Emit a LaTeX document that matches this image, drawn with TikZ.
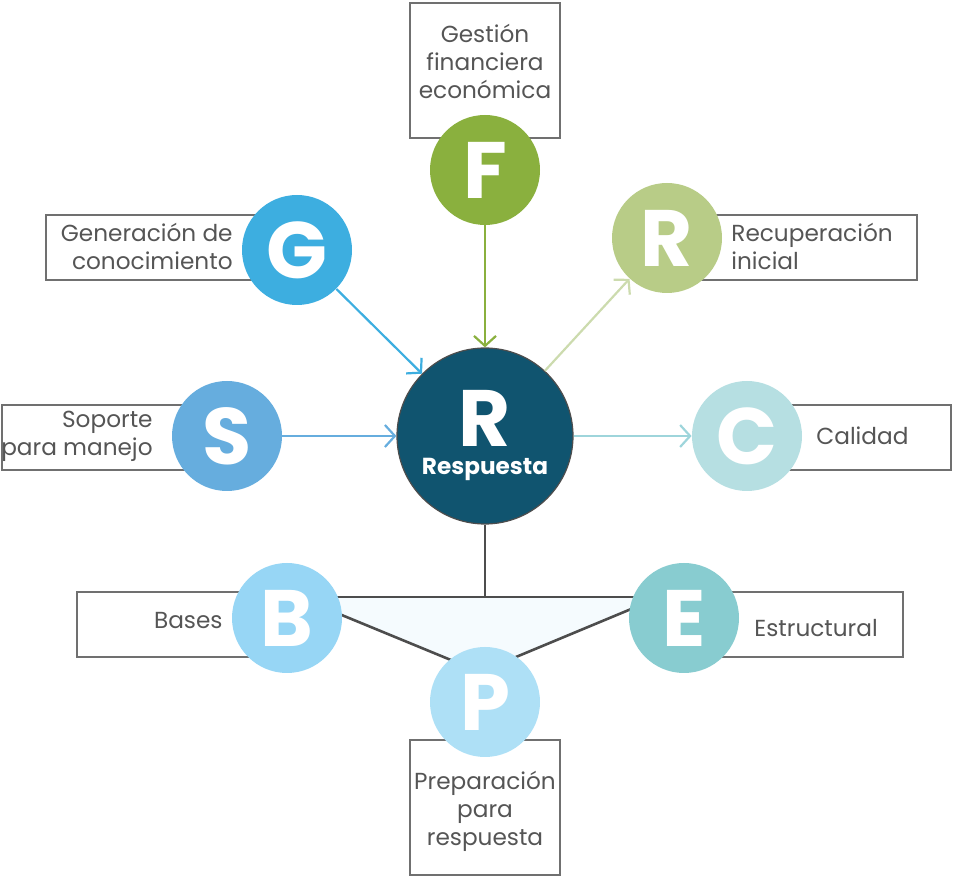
\documentclass[tikz,border=0pt]{standalone}
\usepackage{fontspec}
\setmainfont{Poppins}
\usetikzlibrary{arrows.meta,positioning}

\definecolor{resp}{HTML}{10546F}
\definecolor{gfin}{HTML}{8AB03E}
\definecolor{gcon}{HTML}{3DAEE0}
\definecolor{grec}{HTML}{B8CC87}
\definecolor{gsop}{HTML}{66ADDE}
\definecolor{gcal}{HTML}{B6DFE2}
\definecolor{gbas}{HTML}{97D6F5}
\definecolor{gest}{HTML}{88CCD0}
\definecolor{gpre}{HTML}{AEE0F6}
\definecolor{arec}{HTML}{CCDBAE}
\definecolor{acal}{HTML}{9ED5DB}
\definecolor{boxgray}{HTML}{707070}
\definecolor{txtgray}{HTML}{555555}
\definecolor{darkline}{HTML}{4D4D4D}
\definecolor{trifill}{HTML}{F5FBFE}

\tikzset{
  letter/.style={circle, minimum size=55pt, inner sep=0pt, text=white,
    font=\fontsize{40}{40}\selectfont\bfseries},
  labelbox/.style={draw=boxgray, line width=0.6pt, inner sep=0pt, minimum height=32.5pt},
  lbl/.style={text=txtgray, font=\fontsize{11.6}{14}\selectfont, inner sep=0pt},
  link/.style={line width=1.1pt, -{Straight Barb[length=5pt,width=11pt]}},
}

\begin{document}
\begin{tikzpicture}[x=0.5pt,y=-0.5pt]
\useasboundingbox (0,0) rectangle (954,876);

% label boxes behind the circles
\node[labelbox, minimum width=75pt, minimum height=67.5pt] (finbox) at (485,70.5) {};
\node[labelbox, minimum width=125.5pt] (conbox) at (171.5,247.5) {};
\node[labelbox, minimum width=125pt] (recbox) at (792,247.5) {};
\node[labelbox, minimum width=112.5pt] (sopbox) at (114.5,437.5) {};
\node[labelbox, minimum width=102pt] (calbox) at (849,437.5) {};
\node[labelbox, minimum width=105pt] (basbox) at (182,624.5) {};
\node[labelbox, minimum width=109.5pt] (estbox) at (793.5,624.5) {};
\node[labelbox, minimum width=75pt, minimum height=67.5pt] (prebox) at (485,807.5) {};

% texts
\node[lbl, align=center] (fintxt) at (485,61) {Gestión\\financiera\\económica};
\node[lbl, align=right, anchor=east] (contxt) at (233,246) {Generación de\\conocimiento};
\node[lbl, align=left, anchor=west] (rectxt) at (731,246) {Recuperación\\inicial};
\node[lbl, align=right, anchor=east] (soptxt) at (153,436) {Soporte\\para manejo};
\node[lbl, anchor=west] (caltxt) at (816,436) {Calidad};
\node[lbl, anchor=east] (bastxt) at (223,621) {Bases};
\node[lbl, anchor=west] (esttxt) at (754,628) {Estructural};
\node[lbl, align=center] (pretxt) at (485,811) {Preparación\\para\\respuesta};

% triangle under the centre
\coordinate (tl) at (298,597);
\coordinate (tr) at (660,597);
\coordinate (tb) at (480,672);
\coordinate (tm) at (485,597);
\fill[trifill] (tl) -- (tr) -- (tb) -- cycle;
\draw[darkline, line width=1.3pt] (tl) -- (tr);
\draw[darkline, line width=1.3pt] (tl) -- (tb) -- (tr);

% circles
\node[letter, fill=gfin] (F) at (485,170) {F};
\node[letter, fill=gcon] (G) at (297,250) {G};
\node[letter, fill=grec] (Rr) at (667,238) {R};
\node[letter, fill=gsop] (S) at (227,436) {S};
\node[letter, fill=gcal] (C) at (747,436) {C};
\node[letter, fill=gbas] (B) at (287,618) {B};
\node[letter, fill=gest] (E) at (684,618) {E};
\node[letter, fill=gpre] (P) at (485,702) {P};
\node[circle, fill=resp, draw=darkline, line width=0.6pt, minimum size=88pt, inner sep=0pt,
  text=white, align=center, font=\bfseries] (R) at (485,436)
  {{\fontsize{40}{40}\selectfont R}\\[2pt]{\fontsize{11.6}{14}\selectfont Respuesta}};

% connectors
\draw[link, gfin] (F) -- (R);
\draw[link, gcon] (G) -- (R);
\draw[link, gsop] (S) -- (R);
\draw[link, arec] (R) -- (Rr);
\draw[link, acal] (R) -- (C);
\draw[darkline, line width=1.3pt] (R) -- (tm);

\end{tikzpicture}
\end{document}
